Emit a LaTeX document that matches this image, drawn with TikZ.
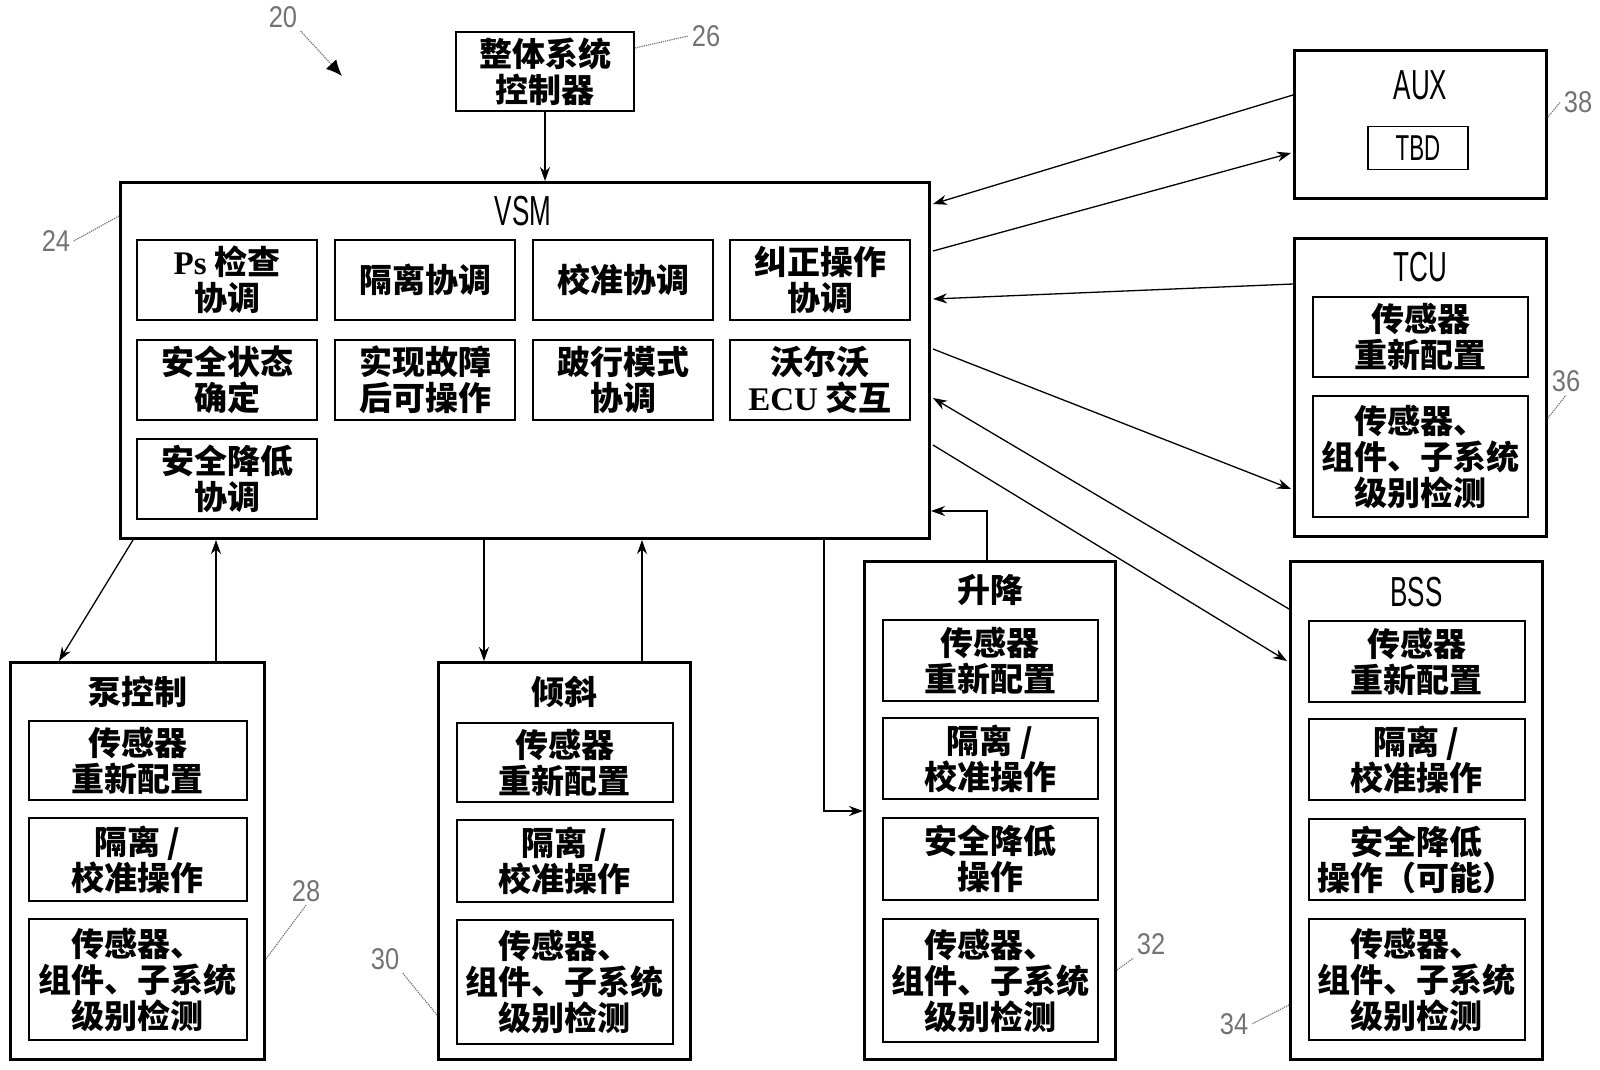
\documentclass[tikz,border=0pt]{standalone}
\usepackage{fontspec}
\setmainfont{Liberation Serif}
\newfontfamily\cjkfont{Noto Sans CJK SC}
\newfontfamily\narrowfont[FakeStretch=0.62]{Liberation Sans}
\newfontfamily\digitfont[FakeStretch=0.85]{Liberation Sans}
\usetikzlibrary{calc,arrows.meta}

\newcommand{\boxtext}{\cjkfont\bfseries\fontsize{33}{36}\selectfont}
\newcommand{\tagtext}{\narrowfont\fontsize{42}{42}\selectfont}
\newcommand{\numtext}{\digitfont\fontsize{30}{30}\selectfont}

\begin{document}
\begin{tikzpicture}[x=1pt,y=-1pt,
  unit/.style={draw, line width=3pt, inner sep=0pt, anchor=north west},
  fn/.style={draw, line width=2pt, inner sep=0pt, align=center, font=\boxtext},
  link/.style={line width=1.3pt, -{Stealth[length=14pt,width=10pt]}},
  leader/.style={line width=1.2pt, black!55, densely dotted},
  refnum/.style={font=\numtext, text=black!55}]
  \useasboundingbox (0,0) rectangle (1600,1070);

  % Overall system controller
  \node[fn, minimum width=178, minimum height=79, anchor=north west] (ctrl) at (455,31) {整体系统\\控制器};

  % VSM and its functions
  \node[unit, minimum width=809, minimum height=356] (vsm) at (119,181) {};
  \node[font=\tagtext] (vsm-title) at (523,211) {VSM};
  \foreach \name/\x/\y/\txt in {ps/227/280/{{\rmfamily\bfseries Ps} 检查\\协调}, iso/425/280/{隔离协调},
      cal/623/280/{校准协调}, fix/820/280/{纠正操作\\协调},
      safe/227/380/{安全状态\\确定}, fo/425/380/{实现故障\\后可操作},
      limp/623/380/{跛行模式\\协调}, volvo/820/380/{沃尔沃\\{\rmfamily\bfseries ECU} 交互},
      low/227/479/{安全降低\\协调}}
    \node[fn, minimum width=180, minimum height=80] (vsm-\name) at (\x,\y) {\txt};

  % AUX
  \node[unit, minimum width=252, minimum height=148] (aux) at (1293,49) {};
  \node[font=\tagtext] (aux-title) at ($(aux.north)+(0,36)$) {AUX};
  \node[draw, line width=1.5pt, minimum width=100, minimum height=43, font=\narrowfont\fontsize{36}{36}\selectfont] (tbd) at (1418,148) {TBD};

  % TCU
  \node[unit, minimum width=252, minimum height=298] (tcu) at (1293,237) {};
  \node[font=\tagtext] (tcu-title) at ($(tcu.north)+(0,30)$) {TCU};
  \foreach \i/\top/\h/\txt in {1/59/80/{传感器\\重新配置}, 2/158/121/{传感器、\\组件、子系统\\级别检测}}
    \node[fn, minimum width=215, minimum height=\h, anchor=north] (tcu-\i) at ($(tcu.north)+(0,\top)$) {\txt};

  % BSS
  \node[unit, minimum width=252, minimum height=498] (bss) at (1289,560) {};
  \node[font=\tagtext] (bss-title) at ($(bss.north)+(0,32)$) {BSS};
  \foreach \i/\top/\h/\txt in {1/60/81/{传感器\\重新配置}, 2/158/81/{隔离 /\\校准操作},
      3/258/81/{安全降低\\操作（可能）}, 4/358/121/{传感器、\\组件、子系统\\级别检测}}
    \node[fn, minimum width=216, minimum height=\h, anchor=north] (bss-\i) at ($(bss.north)+(0,\top)$) {\txt};

  % Lift
  \node[unit, minimum width=251, minimum height=498] (lift) at (863,560) {};
  \node[font=\boxtext] (lift-title) at ($(lift.north)+(0,30)$) {升降};
  \foreach \i/\top/\h/\txt in {1/59/81/{传感器\\重新配置}, 2/157/81/{隔离 /\\校准操作},
      3/257/82/{安全降低\\操作}, 4/358/123/{传感器、\\组件、子系统\\级别检测}}
    \node[fn, minimum width=215, minimum height=\h, anchor=north] (lift-\i) at ($(lift.north)+(0,\top)$) {\txt};

  % Pump control
  \node[unit, minimum width=254, minimum height=397] (pump) at (9,661) {};
  \node[font=\boxtext] (pump-title) at ($(pump.north)+(0,31)$) {泵控制};
  \foreach \i/\top/\h/\txt in {1/59/79/{传感器\\重新配置}, 2/156/83/{隔离 /\\校准操作},
      3/257/121/{传感器、\\组件、子系统\\级别检测}}
    \node[fn, minimum width=218, minimum height=\h, anchor=north] (pump-\i) at ($(pump.north)+(0,\top)$) {\txt};

  % Tilt
  \node[unit, minimum width=252, minimum height=397] (tilt) at (437,661) {};
  \node[font=\boxtext] (tilt-title) at ($(tilt.north)+(0,31)$) {倾斜};
  \foreach \i/\top/\h/\txt in {1/61/79/{传感器\\重新配置}, 2/158/82/{隔离 /\\校准操作},
      3/258/124/{传感器、\\组件、子系统\\级别检测}}
    \node[fn, minimum width=216, minimum height=\h, anchor=north] (tilt-\i) at ($(tilt.north)+(0,\top)$) {\txt};

  % Links to and from the VSM
  \draw[link] (ctrl.south) -- (ctrl.south |- vsm.north);
  \draw[link] ($(vsm.south west)+(14,0)$) -- ($(pump.north west)+(50,0)$);
  \draw[link] ($(pump.north west)+(207,0)$) -- ($(vsm.south west)+(97,0)$);
  \draw[link] ($(vsm.south west)+(365,0)$) -- ($(tilt.north west)+(47,0)$);
  \draw[link] ($(tilt.north west)+(205,0)$) -- ($(vsm.south west)+(523,0)$);
  \draw[link] ($(vsm.south west)+(705,0)$) |- ($(lift.north west)+(0,251)$);
  \draw[link] ($(lift.north west)+(124,0)$) |- ($(vsm.north east)+(0,330)$);
  \draw[link] ($(aux.north west)+(0,46)$) -- ($(vsm.north east)+(2,23)$);
  \draw[link] ($(vsm.north east)+(2,70)$) -- ($(aux.north west)+(-2,104)$);
  \draw[link] ($(tcu.north west)+(0,47)$) -- ($(vsm.north east)+(2,118)$);
  \draw[link] ($(vsm.north east)+(2,168)$) -- ($(tcu.north west)+(-2,252)$);
  \draw[link] ($(bss.north west)+(0,49)$) -- ($(vsm.north east)+(2,217)$);
  \draw[link] ($(vsm.north east)+(2,264)$) -- ($(bss.north west)+(-2,101)$);

  % Reference numbers
  \node[refnum] (n20) at (283,17) {20};
  \coordinate (n20-tip) at (342,76);
  \draw[leader, -{Latex[length=16pt,width=14pt,black]}] (n20.south east) -- (n20-tip);
  \node[refnum] (n26) at (706,36) {26};
  \draw[leader] ($(ctrl.north east)+(0,17)$) -- (n26.west);
  \node[refnum] (n24) at (56,241) {24};
  \draw[leader] ($(vsm.north west)+(0,35)$) -- (n24.east);
  \node[refnum] (n38) at (1578,102) {38};
  \draw[leader] ($(aux.north east)+(0,68)$) -- (n38.west);
  \node[refnum] (n36) at (1566,381) {36};
  \draw[leader] ($(tcu.north east)+(0,181)$) -- (n36.south);
  \node[refnum] (n34) at (1234,1024) {34};
  \draw[leader] ($(bss.north west)+(0,445)$) -- (n34.east);
  \node[refnum] (n32) at (1151,944) {32};
  \draw[leader] ($(lift.north east)+(0,410)$) -- (n32.south west);
  \node[refnum] (n28) at (306,891) {28};
  \draw[leader] ($(pump.north east)+(0,298)$) -- (n28.south);
  \node[refnum] (n30) at (385,959) {30};
  \draw[leader] (n30.south east) -- ($(tilt.north west)+(0,354)$);
\end{tikzpicture}
\end{document}
